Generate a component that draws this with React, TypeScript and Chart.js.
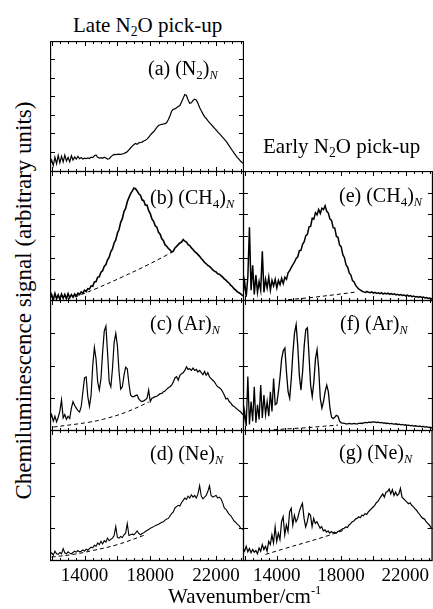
import React, { useEffect, useRef } from "react";
import { Chart, registerables } from "chart.js";

Chart.register(...registerables);

// ---------- data ----------
const WN = [
  11900, 12000, 12100, 12200, 12300, 12400, 12500, 12600, 12700, 12800,
  12900, 13000, 13100, 13200, 13300, 13400, 13500, 13600, 13700, 13800,
  13900, 14000, 14100, 14200, 14300, 14400, 14500, 14600, 14700, 14800,
  14900, 15000, 15100, 15200, 15300, 15400, 15500, 15600, 15700, 15800,
  15900, 16000, 16100, 16200, 16300, 16400, 16500, 16600, 16700, 16800,
  16900, 17000, 17100, 17200, 17300, 17400, 17500, 17600, 17700, 17800,
  17900, 18000, 18100, 18200, 18300, 18400, 18500, 18600, 18700, 18800,
  18900, 19000, 19100, 19200, 19300, 19400, 19500, 19600, 19700, 19800,
  19900, 20000, 20100, 20200, 20300, 20400, 20500, 20600, 20700, 20800,
  20900, 21000, 21100, 21200, 21300, 21400, 21500, 21600, 21700, 21800,
  21900, 22000, 22100, 22200, 22300, 22400, 22500, 22600, 22700, 22800,
  22900, 23000, 23100, 23200, 23300, 23400, 23500, 23600, 23700,
];

const X_TICK_LABELS = [14000, 18000, 22000];
const X_MAJOR_TICKS = [12000, 14000, 16000, 18000, 20000, 22000];
const X_MINOR_TICKS = [
  12000, 12500, 13000, 13500, 14000, 14500, 15000, 15500, 16000, 16500, 17000, 17500,
  18000, 18500, 19000, 19500, 20000, 20500, 21000, 21500, 22000, 22500, 23000, 23500,
];

// (a) (N2)N, late pick-up
const SIG_A = [
  0.3, 0.55, 0.25, 0.7, 0.35, 0.8, 0.4, 0.75, 0.45, 0.82,
  0.5, 0.7, 0.45, 0.78, 0.55, 0.72, 0.6, 0.75, 0.62, 0.68,
  0.6, 0.65, 0.62, 0.66, 0.63, 0.7, 0.68, 0.78, 0.82, 0.7,
  0.65, 0.68, 0.64, 0.7, 0.66, 0.6, 0.62, 0.72, 0.8, 0.85,
  0.84, 0.86, 0.87, 0.85, 0.88, 0.9, 0.95, 1.0, 1.1, 1.2,
  1.3, 1.38, 1.45, 1.4, 1.48, 1.5, 1.52, 1.58, 1.62, 1.68,
  1.78, 1.9, 2.0, 2.08, 2.2, 2.32, 2.42, 2.46, 2.48, 2.5,
  2.52, 2.58, 2.75, 2.95, 3.2, 3.3, 3.32, 3.38, 3.45, 3.5,
  3.7, 3.9, 4.1, 4.05, 3.8, 3.62, 3.65, 3.78, 3.85, 3.8,
  3.62, 3.4, 3.22, 3.05, 2.9, 2.8, 2.68, 2.58, 2.48, 2.38,
  2.28, 2.18, 2.08, 1.98, 1.88, 1.78, 1.68, 1.58, 1.45, 1.32,
  1.18, 1.05, 0.92, 0.8, 0.68, 0.58, 0.48, 0.4, 0.35,
];

// (b) (CH4)N, late pick-up
const SIG_B = [
  0.1, 0.3, 0.05, 0.35, 0.1, 0.28, 0.08, 0.32, 0.12, 0.3,
  0.1, 0.34, 0.15, 0.3, 0.18, 0.32, 0.22, 0.36, 0.3, 0.42,
  0.36, 0.5, 0.44, 0.57, 0.55, 0.7, 0.68, 0.88, 0.9, 1.1,
  1.12, 1.33, 1.4, 1.6, 1.68, 1.9, 2.02, 2.28, 2.4, 2.68,
  2.82, 3.13, 3.3, 3.63, 3.8, 4.13, 4.27, 4.58, 4.77, 4.95,
  5.07, 5.21, 5.18, 5.08, 4.95, 4.88, 4.67, 4.63, 4.42, 4.43,
  4.17, 4.03, 3.79, 3.68, 3.47, 3.41, 3.17, 3.08, 2.87, 2.78,
  2.59, 2.53, 2.42, 2.36, 2.25, 2.3, 2.45, 2.52, 2.6, 2.68,
  2.72, 2.84, 2.76, 2.72, 2.6, 2.56, 2.45, 2.38, 2.28, 2.22,
  2.14, 2.06, 1.96, 1.88, 1.78, 1.72, 1.64, 1.6, 1.52, 1.44,
  1.38, 1.34, 1.26, 1.24, 1.17, 1.1, 1.02, 0.96, 0.88, 0.82,
  0.72, 0.66, 0.56, 0.5, 0.42, 0.38, 0.33, 0.26, 0.22,
];
const DASH_B_WN = [13400, 14700, 16300, 17800, 19000, 19300];
const DASH_B = [0.18, 0.57, 1.11, 1.65, 2.12, 2.25];

// (c) (Ar)N, late pick-up
const SIG_C = [
  0.35, 0.5, 0.3, 0.45, 0.28, 0.42, 0.6, 0.95, 0.4, 0.5,
  0.36, 0.45, 0.38, 0.7, 0.9, 0.78, 0.7, 0.62, 0.58, 0.75,
  1.2, 1.62, 1.65, 1.05, 0.75, 1.1, 2.0, 2.55, 2.2, 1.5,
  1.25, 1.6, 2.4, 3.05, 3.2, 2.4, 1.5, 1.35, 1.9, 2.7,
  2.98, 2.6, 1.8, 1.28, 1.35, 1.7, 1.95, 1.9, 1.45, 1.1,
  1.05, 1.05, 1.08, 1.1, 0.98, 0.92, 0.9, 0.92, 0.95, 1.0,
  1.25, 0.9, 1.0, 1.02, 1.05, 1.06, 1.1, 1.14, 1.15, 1.2,
  1.22, 1.28, 1.32, 1.35, 1.4, 1.5, 1.62, 1.66, 1.55, 1.7,
  1.75, 1.78, 1.85, 1.96, 1.88, 1.9, 1.85, 1.92, 1.85, 1.88,
  1.8, 1.85, 1.78, 1.72, 1.82, 1.7, 1.78, 1.65, 1.6, 1.55,
  1.5, 1.42, 1.35, 1.32, 1.28, 1.2, 1.1, 0.98, 1.0, 0.9,
  0.85, 0.78, 0.75, 0.7, 0.66, 0.62, 0.58, 0.52, 0.48,
];
const DASH_C_WN = [12100, 14300, 15300, 16550, 17900];
const DASH_C = [0.12, 0.27, 0.38, 0.58, 0.88];

// (d) (Ne)N, late pick-up
const SIG_D = [
  0.2, 0.25, 0.18, 0.3, 0.22, 0.2, 0.26, 0.22, 0.38, 0.25,
  0.22, 0.28, 0.24, 0.22, 0.26, 0.3, 0.27, 0.32, 0.28, 0.3,
  0.34, 0.3, 0.36, 0.33, 0.38, 0.42, 0.4, 0.48, 0.45, 0.55,
  0.5, 0.6, 0.52, 0.62, 0.58, 0.7, 0.62, 0.66, 0.7, 0.78,
  1.05, 0.72, 0.7, 0.75, 0.72, 0.8, 0.85, 1.14, 0.78, 0.8,
  0.82, 0.8, 0.85, 0.92, 0.84, 0.8, 0.84, 0.86, 0.9, 0.93,
  0.96, 1.0, 1.02, 1.05, 1.08, 1.1, 1.12, 1.15, 1.18, 1.2,
  1.25, 1.28, 1.3, 1.38, 1.45, 1.5, 1.62, 1.66, 1.7, 1.68,
  1.78, 1.85, 1.92, 1.88, 1.98, 1.92, 2.02, 1.95, 2.0, 1.92,
  2.05, 2.3, 1.98, 1.9, 1.95, 2.0, 2.12, 2.3, 2.0, 1.95,
  1.98, 2.0, 1.92, 1.95, 1.9, 1.78, 1.62, 1.58, 1.5, 1.42,
  1.38, 1.3, 1.22, 1.18, 1.12, 1.08, 1.0, 0.98, 0.95,
];
const DASH_D_WN = [12000, 13300, 14500, 16000, 17700];
const DASH_D = [0.12, 0.2, 0.32, 0.5, 0.8];

// (e) (CH4)N, early pick-up
const SIG_E = [
  0.3, 0.9, 0.2, 1.1, 3.4, 0.5, 1.65, 0.3, 1.2, 0.4,
  0.9, 0.5, 2.3, 0.4, 1.0, 0.6, 1.1, 0.5, 0.95, 0.7,
  1.0, 0.6, 0.95, 0.75, 1.05, 0.8, 1.1, 1.0, 1.3, 1.4,
  1.55, 1.68, 1.8, 1.96, 2.04, 2.32, 2.34, 2.62, 2.74, 3.02,
  3.08, 3.42, 3.44, 3.82, 3.78, 4.08, 3.98, 4.22, 4.04, 4.28,
  4.22, 4.4, 4.14, 4.06, 3.78, 3.72, 3.38, 3.36, 2.98, 2.94,
  2.58, 2.5, 2.14, 2.0, 1.66, 1.56, 1.3, 1.2, 0.94, 0.88,
  0.72, 0.62, 0.55, 0.5, 0.45, 0.42, 0.4, 0.44, 0.4, 0.38,
  0.42, 0.36, 0.4, 0.35, 0.38, 0.34, 0.38, 0.32, 0.36, 0.33,
  0.36, 0.31, 0.34, 0.3, 0.33, 0.28, 0.31, 0.27, 0.3, 0.26,
  0.28, 0.24, 0.27, 0.22, 0.25, 0.2, 0.23, 0.19, 0.21, 0.17,
  0.2, 0.16, 0.18, 0.14, 0.16, 0.12, 0.14, 0.1, 0.12,
];
const DASH_E_WN = [14700, 16000, 17500, 19000];
const DASH_E = [0.06, 0.15, 0.28, 0.42];

// (f) (Ar)N, early pick-up
const SIG_F = [
  0.1, 0.6, 0.15, 1.66, 0.2, 0.9, 0.3, 1.35, 0.25, 0.8,
  0.35, 1.4, 0.4, 1.1, 0.5, 0.9, 0.45, 1.2, 0.6, 1.6,
  0.8, 0.84, 1.2, 1.65, 2.2, 2.45, 2.53, 1.8, 1.2, 1.0,
  1.6, 2.4, 3.0, 3.25, 2.6, 1.7, 1.25, 1.8, 2.6, 3.1,
  3.15, 2.3, 1.4, 1.05, 1.5, 2.2, 2.48, 1.9, 1.0, 0.7,
  0.9, 1.2, 1.4, 1.2, 0.7, 0.42, 0.38, 0.42, 0.48, 0.45,
  0.3, 0.25, 0.24, 0.23, 0.22, 0.22, 0.23, 0.22, 0.22, 0.23,
  0.22, 0.22, 0.23, 0.24, 0.23, 0.25, 0.26, 0.25, 0.27, 0.26,
  0.27, 0.28, 0.27, 0.26, 0.27, 0.25, 0.26, 0.24, 0.25, 0.23,
  0.24, 0.22, 0.23, 0.22, 0.21, 0.22, 0.2, 0.21, 0.19, 0.2,
  0.18, 0.19, 0.17, 0.18, 0.16, 0.17, 0.15, 0.16, 0.15, 0.14,
  0.15, 0.13, 0.14, 0.12, 0.13, 0.11, 0.12, 0.1, 0.1,
];
const DASH_F_WN = [13800, 14800, 15800, 16800, 17800];
const DASH_F = [0.04, 0.07, 0.1, 0.14, 0.18];

// (g) (Ne)N, early pick-up
const SIG_G = [
  0.4, 0.3, 0.45, 0.28, 0.38, 0.25, 0.35, 0.27, 0.32, 0.22,
  0.4, 0.3, 0.5, 0.35, 0.45, 0.3, 0.6, 0.5, 0.8, 0.55,
  1.04, 0.6, 0.85, 0.65, 1.2, 1.35, 0.8, 1.1, 0.9, 1.5,
  1.61, 1.1, 1.4, 1.2, 1.3, 1.5, 1.65, 1.76, 1.3, 1.04,
  1.2, 1.45, 1.4, 1.05, 1.3, 1.15, 1.2, 1.1, 1.0, 1.05,
  0.92, 0.95, 0.88, 0.92, 0.85, 0.9, 0.86, 0.88, 0.85, 0.9,
  0.92, 0.95, 0.98, 1.0, 1.04, 1.02, 1.1, 1.14, 1.2, 1.22,
  1.28, 1.3, 1.35, 1.32, 1.4, 1.38, 1.45, 1.42, 1.5, 1.55,
  1.6, 1.65, 1.7, 1.78, 1.82, 1.9, 1.98, 2.05, 1.95, 2.1,
  2.12, 2.2, 2.05, 2.18, 2.0, 2.1, 2.0, 2.05, 2.22, 1.95,
  1.9, 1.85, 1.8, 1.75, 1.78, 1.7, 1.66, 1.6, 1.55, 1.48,
  1.42, 1.35, 1.3, 1.28, 1.2, 1.15, 1.1, 1.02, 0.98,
];
const DASH_G_WN = [13300, 14500, 15900, 17100, 18300];
const DASH_G = [0.2, 0.38, 0.58, 0.76, 0.96];

// ---------- layout ----------
const FONT = '"Liberation Serif", "Times New Roman", serif';
const X_MIN = 11900;
const X_MAX = 23700;
const LABEL_H = 28;

type PanelDef = {
  key: string;
  left: number; top: number; w: number; h: number;
  sig: number[]; dashWn?: number[]; dash?: number[];
  yMin: number; yMax: number; yTicks: number[];
  lw: number; bottom: boolean;
};

const PANELS: PanelDef[] = [
  { key: "a", left: 50, top: 41, w: 193, h: 130, sig: SIG_A, yMin: -0.1, yMax: 7.0, yTicks: [1, 2, 3, 4, 5, 6], lw: 1.2, bottom: false },
  { key: "b", left: 50, top: 171, w: 193, h: 129, sig: SIG_B, dashWn: DASH_B_WN, dash: DASH_B, yMin: 0, yMax: 6, yTicks: [1, 2, 3, 4, 5], lw: 1.6, bottom: false },
  { key: "c", left: 50, top: 300, w: 193, h: 130, sig: SIG_C, dashWn: DASH_C_WN, dash: DASH_C, yMin: 0, yMax: 4, yTicks: [1, 2, 3], lw: 1.2, bottom: false },
  { key: "d", left: 50, top: 430, w: 193, h: 130, sig: SIG_D, dashWn: DASH_D_WN, dash: DASH_D, yMin: 0, yMax: 4, yTicks: [1, 2, 3], lw: 1.1, bottom: true },
  { key: "e", left: 243, top: 171, w: 189, h: 129, sig: SIG_E, dashWn: DASH_E_WN, dash: DASH_E, yMin: 0, yMax: 6, yTicks: [1, 2, 3, 4, 5], lw: 1.5, bottom: false },
  { key: "f", left: 243, top: 300, w: 189, h: 130, sig: SIG_F, dashWn: DASH_F_WN, dash: DASH_F, yMin: 0, yMax: 4, yTicks: [1, 2, 3], lw: 1.3, bottom: false },
  { key: "g", left: 243, top: 430, w: 189, h: 130, sig: SIG_G, dashWn: DASH_G_WN, dash: DASH_G, yMin: 0, yMax: 4, yTicks: [1, 2, 3], lw: 1.2, bottom: true },
];

function Panel({ p }: { p: PanelDef }) {
  const ref = useRef<HTMLCanvasElement>(null);
  useEffect(() => {
    const framePlugin = {
      id: "frame" + p.key,
      afterDraw(chart: any) {
        const { ctx, chartArea: a, scales } = chart;
        const x = scales.x;
        const y = scales.y;
        ctx.save();
        ctx.strokeStyle = "#000";
        ctx.lineWidth = 1.3;
        ctx.strokeRect(a.left + 0.5, a.top + 0.5, a.right - a.left - 1, a.bottom - a.top - 1);
        ctx.lineWidth = 1;
        ctx.beginPath();
        for (const v of X_MINOR_TICKS) {
          const px = Math.round(x.getPixelForValue(v)) + 0.5;
          const len = X_MAJOR_TICKS.includes(v) ? 5 : 3;
          ctx.moveTo(px, a.top);
          ctx.lineTo(px, a.top + len);
          ctx.moveTo(px, a.bottom);
          ctx.lineTo(px, a.bottom - len);
        }
        for (const v of p.yTicks) {
          const py = Math.round(y.getPixelForValue(v)) + 0.5;
          ctx.moveTo(a.left, py);
          ctx.lineTo(a.left + 5, py);
          ctx.moveTo(a.right, py);
          ctx.lineTo(a.right - 5, py);
        }
        ctx.stroke();
        ctx.restore();
      },
    };
    const datasets: any[] = [
      {
        data: WN.map((x, i) => ({ x, y: p.sig[i] })),
        borderColor: "#000",
        borderWidth: p.lw,
        pointRadius: 0,
        tension: 0,
        fill: false,
      },
    ];
    if (p.dash && p.dashWn) {
      datasets.push({
        data: p.dashWn.map((x, i) => ({ x, y: p.dash![i] })),
        borderColor: "#000",
        borderWidth: 1,
        borderDash: [4, 3],
        pointRadius: 0,
        tension: 0.4,
        fill: false,
      });
    }
    const chart = new Chart(ref.current as HTMLCanvasElement, {
      type: "line",
      data: { datasets },
      options: {
        animation: false,
        responsive: false,
        maintainAspectRatio: false,
        events: [],
        layout: { padding: 0, autoPadding: false } as any,
        plugins: { legend: { display: false }, tooltip: { enabled: false } },
        scales: {
          x: {
            type: "linear",
            min: X_MIN,
            max: X_MAX,
            display: p.bottom,
            grid: { display: false, drawTicks: false },
            border: { display: false },
            ticks: {
              autoSkip: false,
              maxRotation: 0,
              padding: 4,
              color: "#000",
              font: { family: FONT, size: 19 },
              callback: (v: any) => String(v),
            },
            afterBuildTicks: (s: any) => {
              s.ticks = X_TICK_LABELS.map((v) => ({ value: v }));
            },
            afterFit: (s: any) => {
              if (p.bottom) s.height = LABEL_H;
            },
          },
          y: { type: "linear", min: p.yMin, max: p.yMax, display: false },
        },
      } as any,
      plugins: [framePlugin],
    });
    return () => chart.destroy();
  }, []);
  return (
    <canvas
      ref={ref}
      width={p.w + 1}
      height={p.h + 1 + (p.bottom ? LABEL_H : 0)}
      style={{ position: "absolute", left: p.left, top: p.top }}
    />
  );
}

const sub = { fontSize: "0.65em", verticalAlign: "-0.3em", lineHeight: 0 } as const;
const subN = { fontSize: "0.62em", verticalAlign: "-0.35em", lineHeight: 0, fontStyle: "italic" } as const;

function Txt({ left, cy, size = 20, children }: { left: number; cy: number; size?: number; children: any }) {
  return (
    <div
      style={{
        position: "absolute",
        left,
        top: cy - size / 2,
        fontFamily: FONT,
        fontSize: size,
        lineHeight: 1,
        whiteSpace: "nowrap",
        color: "#000",
      }}
    >
      {children}
    </div>
  );
}

export default function App() {
  return (
    <div style={{ position: "absolute", left: 0, top: 0, width: 433, height: 609, background: "#fff", overflow: "hidden" }}>
      {PANELS.map((p) => (
        <Panel key={p.key} p={p} />
      ))}
      <Txt left={73} cy={25} size={21}>Late N<sub style={sub}>2</sub>O pick-up</Txt>
      <Txt left={263} cy={146} size={21}>Early N<sub style={sub}>2</sub>O pick-up</Txt>
      <Txt left={148} cy={68}>(a) (N<sub style={sub}>2</sub>)<sub style={subN}>N</sub></Txt>
      <Txt left={150} cy={197}>(b) (CH<sub style={sub}>4</sub>)<sub style={subN}>N</sub></Txt>
      <Txt left={150} cy={323}>(c) (Ar)<sub style={subN}>N</sub></Txt>
      <Txt left={150} cy={453}>(d) (Ne)<sub style={subN}>N</sub></Txt>
      <Txt left={339} cy={195}>(e) (CH<sub style={sub}>4</sub>)<sub style={subN}>N</sub></Txt>
      <Txt left={340} cy={323}>(f) (Ar)<sub style={subN}>N</sub></Txt>
      <Txt left={339} cy={452}>(g) (Ne)<sub style={subN}>N</sub></Txt>
      <div
        style={{
          position: "absolute",
          left: 23 - 220,
          top: 300 - 11.5,
          width: 440,
          textAlign: "center",
          transform: "rotate(-90deg)",
          transformOrigin: "50% 50%",
          fontFamily: FONT,
          fontSize: 23,
          lineHeight: 1,
          whiteSpace: "nowrap",
          color: "#000",
        }}
      >
        Chemiluminescence signal (arbitrary units)
      </div>
      <Txt left={168} cy={596} size={21}>
        Wavenumber/cm<sup style={{ fontSize: "0.6em", verticalAlign: "0.7em", lineHeight: 0 }}>-1</sup>
      </Txt>
    </div>
  );
}
